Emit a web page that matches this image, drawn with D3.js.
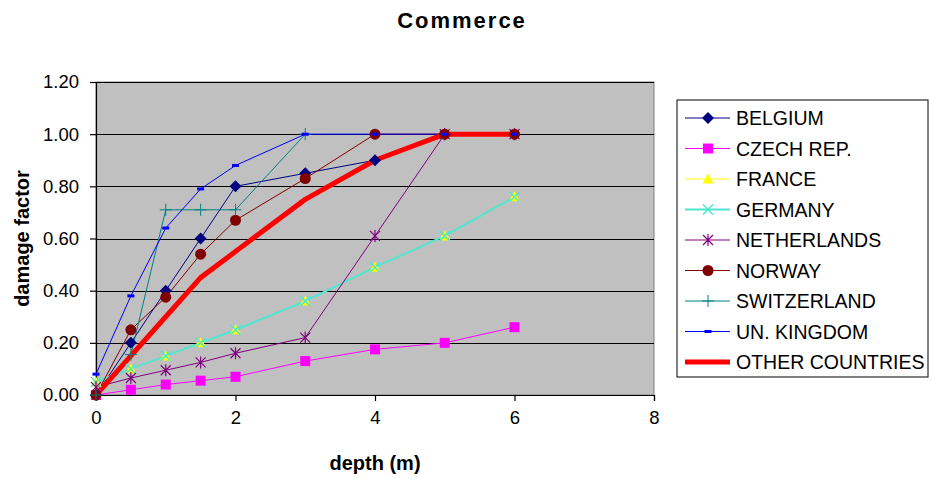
<!DOCTYPE html>
<html>
<head>
<meta charset="utf-8">
<script src="https://cdn.jsdelivr.net/npm/d3@7"></script>
<style>
  body { margin: 0; background: #fff; }
  text { font-family: Arial, "Liberation Sans", sans-serif; fill: #000; }
</style>
</head>
<body>
<div id="chart"></div>
<script>
// Chart size
var svgWidth = 931;
var svgHeight = 479;

// plot area edges
var margin = { top: 82, right: 277, bottom: 84, left: 96 };
var chartWidth = svgWidth - margin.left - margin.right;
var chartHeight = svgHeight - margin.top - margin.bottom;

// data
var depths = [0, 0.5, 1, 1.5, 2, 3, 4, 5, 6];
var belgium = [0, 0.20, 0.40, 0.60, 0.80, 0.85, 0.90, 1.00, 1.00];
var czech = [0, 0.02, 0.04, 0.055, 0.07, 0.13, 0.175, 0.20, 0.26];
var france = [0.05, 0.10, 0.15, 0.20, 0.25, 0.36, 0.49, 0.61, 0.76];
var germany = [0.05, 0.10, 0.15, 0.20, 0.25, 0.36, 0.49, 0.61, 0.76];
var netherlands = [0.03, 0.065, 0.095, 0.125, 0.16, 0.22, 0.61, 1.00, 1.00];
var norway = [0, 0.25, 0.375, 0.54, 0.67, 0.83, 1.00, 1.00, 1.00];
var switzerland = [0, 0.155, 0.71, 0.71, 0.71, 1.00];
var ukingdom = [0.08, 0.38, 0.64, 0.79, 0.88, 1.00, 1.00, 1.00, 1.00];
var others = [0, 0.15, 0.30, 0.45, 0.55, 0.75, 0.90, 1.00, 1.00];

var seriesNames = ["BELGIUM", "CZECH REP.", "FRANCE", "GERMANY", "NETHERLANDS",
  "NORWAY", "SWITZERLAND", "UN. KINGDOM", "OTHER COUNTRIES"];
var seriesValues = [belgium, czech, france, germany, netherlands, norway, switzerland, ukingdom, others];
var seriesColors = ["#000080", "#FF00FF", "#FFFF00", "#4FE6D2", "#800080", "#800000", "#008080", "#0000FF", "#FF0000"];
var seriesWidths = [1, 1, 1, 2, 1, 1, 1, 1, 5];
var seriesMarkers = ["diamond", "square", "triangle", "x", "star", "circle", "plus", "dash", "none"];

var xTicks = [0, 2, 4, 6, 8];
var yTicks = [0, 0.2, 0.4, 0.6, 0.8, 1.0, 1.2];

var svg = d3.select("#chart")
  .append("svg")
  .attr("width", svgWidth)
  .attr("height", svgHeight);

var chartGroup = svg.append("g")
  .attr("transform", `translate(${margin.left}, ${margin.top})`);

var xScale = d3.scaleLinear().domain([0, 8]).range([0, chartWidth]);
var yScale = d3.scaleLinear().domain([0, 1.2]).range([chartHeight, 0]);

// grey plot area
chartGroup.append("rect")
  .attr("width", chartWidth)
  .attr("height", chartHeight)
  .attr("fill", "#C0C0C0")
  .attr("stroke", "#808080")
  .attr("stroke-width", 1);

// gridlines
chartGroup.selectAll(".grid")
  .data(yTicks.filter(d => d > 0))
  .enter().append("line")
  .attr("x1", 0)
  .attr("x2", chartWidth)
  .attr("y1", d => Math.round(yScale(d)) + 0.5)
  .attr("y2", d => Math.round(yScale(d)) + 0.5)
  .attr("stroke", "#000")
  .attr("stroke-width", 1);

// axes
var leftAxis = d3.axisLeft(yScale).tickValues(yTicks).tickFormat(d3.format(".2f")).tickSize(6).tickPadding(11);
var bottomAxis = d3.axisBottom(xScale).tickValues(xTicks).tickFormat(d3.format("d")).tickSize(6).tickPadding(10);

var yAxisG = chartGroup.append("g").call(leftAxis);
var xAxisG = chartGroup.append("g").attr("transform", `translate(0, ${chartHeight})`).call(bottomAxis);

[yAxisG, xAxisG].forEach(function(g) {
  g.attr("font-family", null).attr("font-size", null);
  g.selectAll("path, line").attr("stroke", "#000").attr("stroke-width", 1.2);
  g.selectAll("text").style("font-size", "18.5px");
});

// lines
var drawLine = d3.line()
  .x((d, i) => xScale(depths[i]))
  .y(d => yScale(d));

seriesValues.forEach(function(vals, s) {
  chartGroup.append("path")
    .attr("d", drawLine(vals))
    .attr("fill", "none")
    .attr("stroke", seriesColors[s])
    .attr("stroke-width", seriesWidths[s])
    .attr("stroke-linejoin", "round");
});

// marker drawing
function drawMarker(g, type, color) {
  if (type === "diamond") {
    g.append("path").attr("d", "M0,-6L6,0L0,6L-6,0Z").attr("fill", color);
  } else if (type === "square") {
    g.append("rect").attr("x", -5).attr("y", -5).attr("width", 10).attr("height", 10).attr("fill", color);
  } else if (type === "triangle") {
    g.append("path").attr("d", "M0,-5.5L5.5,4.5L-5.5,4.5Z").attr("fill", color);
  } else if (type === "x") {
    g.append("path").attr("d", "M-5,-5L5,5M-5,5L5,-5").attr("stroke", color).attr("stroke-width", 1.5);
  } else if (type === "star") {
    g.append("path").attr("d", "M-5,-5L5,5M-5,5L5,-5M0,-6L0,6").attr("stroke", color).attr("stroke-width", 1.2);
  } else if (type === "circle") {
    g.append("circle").attr("r", 5.5).attr("fill", color);
  } else if (type === "plus") {
    g.append("path").attr("d", "M-6,0L6,0M0,-6L0,6").attr("stroke", color).attr("stroke-width", 1);
  } else if (type === "dash") {
    g.append("rect").attr("x", -3.5).attr("y", -1.5).attr("width", 7).attr("height", 3).attr("fill", color);
  }
}

seriesValues.forEach(function(vals, s) {
  if (seriesMarkers[s] === "none") return;
  vals.forEach(function(v, i) {
    var g = chartGroup.append("g")
      .attr("transform", `translate(${xScale(depths[i])}, ${yScale(v)})`);
    drawMarker(g, seriesMarkers[s], seriesColors[s]);
  });
});

// title and axis labels
svg.append("text")
  .attr("x", 462)
  .attr("y", 28)
  .attr("text-anchor", "middle")
  .style("font-size", "22px")
  .style("font-weight", "bold")
  .style("letter-spacing", "2px")
  .text("Commerce");

svg.append("text")
  .attr("transform", `translate(29, ${margin.top + chartHeight / 2}) rotate(-90)`)
  .attr("text-anchor", "middle")
  .style("font-size", "20px")
  .style("font-weight", "bold")
  .text("damage factor");

svg.append("text")
  .attr("x", margin.left + xScale(4))
  .attr("y", 470)
  .attr("text-anchor", "middle")
  .style("font-size", "20px")
  .style("font-weight", "bold")
  .text("depth (m)");

// legend
var legend = svg.append("g").attr("transform", "translate(677, 100)");
legend.append("rect")
  .attr("width", 251)
  .attr("height", 277)
  .attr("fill", "#fff")
  .attr("stroke", "#000")
  .attr("stroke-width", 1);

seriesNames.forEach(function(name, s) {
  var row = legend.append("g").attr("transform", `translate(0, ${18 + s * 30.5})`);
  row.append("line")
    .attr("x1", 8).attr("x2", 53)
    .attr("stroke", seriesColors[s])
    .attr("stroke-width", seriesWidths[s]);
  var m = row.append("g").attr("transform", "translate(31, 0)");
  drawMarker(m, seriesMarkers[s], seriesColors[s]);
  row.append("text")
    .attr("x", 59)
    .attr("y", 7)
    .style("font-size", "19.5px")
    .text(name);
});
</script>
</body>
</html>
